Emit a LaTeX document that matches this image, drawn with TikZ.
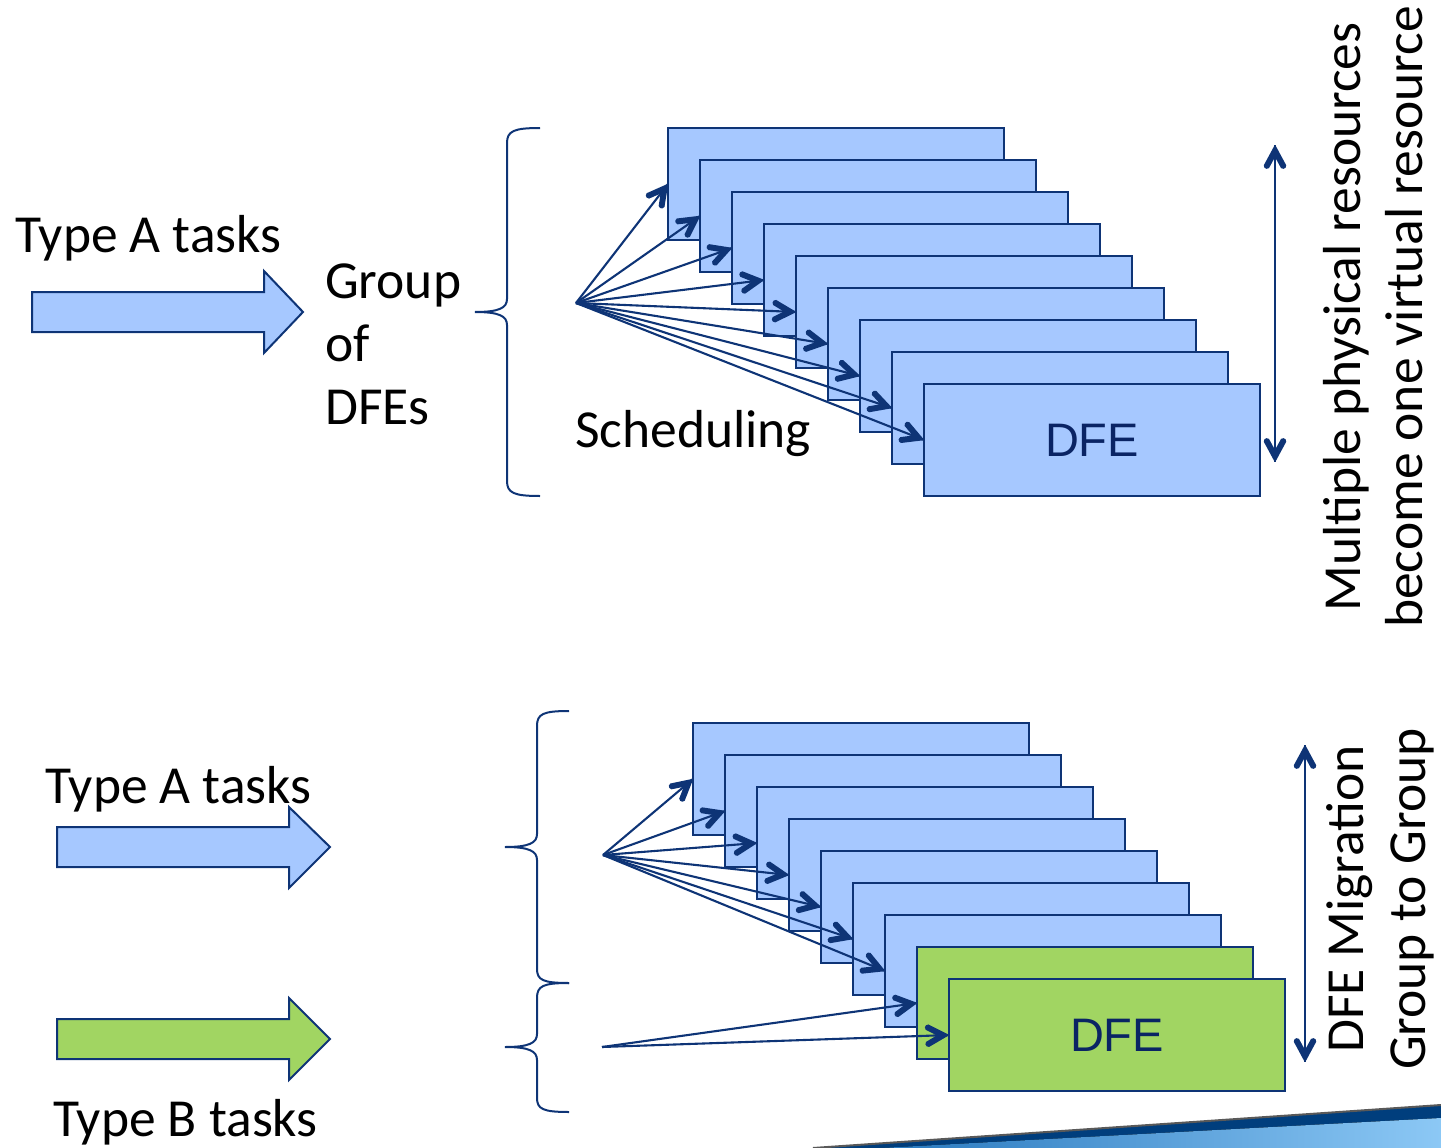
\documentclass[tikz,border=0pt]{standalone}
\usepackage{fontspec}
\setmainfont{Carlito}
\newfontfamily\dfefont{Liberation Sans}
\usetikzlibrary{calc,decorations.markings}

\definecolor{navy}{RGB}{14,52,118}
\definecolor{boxblue}{RGB}{166,200,255}
\definecolor{boxgreen}{RGB}{161,213,98}
\definecolor{dfetext}{RGB}{10,36,100}
\definecolor{swooshdark}{RGB}{0,62,125}
\definecolor{swooshmid}{RGB}{40,120,190}
\definecolor{swooshlight}{RGB}{140,200,245}

\tikzset{
  lbl/.style={font=\fontsize{53.5}{63}\selectfont, inner sep=0pt, anchor=base west},
  rotlbl/.style={font=\fontsize{53.5}{63}\selectfont, inner sep=0pt, rotate=90, anchor=base},
  dfebox/.style={draw=navy, line width=2pt, fill=boxblue, minimum width=336pt,
    minimum height=112pt, anchor=north west, inner sep=0pt, outer sep=0pt},
  dfegreen/.style={dfebox, fill=boxgreen},
  dfelabel/.style={font=\dfefont\fontsize{47}{50}\selectfont, text=dfetext, inner sep=0pt},
  % bold open barb heads, filled chevrons placed on the connector ends
  endbarb/.style={postaction={decorate, decoration={markings,
    mark=at position 1 with {\fill[navy, rounded corners=1.8pt]
      (0.5pt,0pt) -- (-21.9pt,-12.1pt) -- (-24.7pt,-6.9pt) -- (-12.1pt,0pt)
      -- (-24.7pt,6.9pt) -- (-21.9pt,12.1pt) -- cycle;}}}},
  startbarb/.style={postaction={decorate, decoration={markings,
    mark=at position 0 with {\fill[navy, rounded corners=1.8pt]
      (-0.5pt,0pt) -- (21.9pt,-12.1pt) -- (24.7pt,-6.9pt) -- (12.1pt,0pt)
      -- (24.7pt,6.9pt) -- (21.9pt,12.1pt) -- cycle;}}}},
  fan/.style={draw=navy, line width=2.1pt, endbarb},
  spanarrow/.style={draw=navy, line width=2.1pt, endbarb, startbarb},
  taskarrow/.style={draw=navy, line width=2pt, line join=miter},
  bracket/.style={draw=navy, line width=2pt},
}

\begin{document}
\begin{tikzpicture}[x=1pt, y=-1pt]
\useasboundingbox (0,0) rectangle (1441,1148);

% decorative swoosh at the lower right
\fill[swooshdark] (813,1148) -- (1441,1105) -- (1441,1148) -- cycle;
\fill[left color=swooshmid, right color=swooshlight]
  (880,1148) -- (1441,1118) -- (1441,1148) -- cycle;
\draw[gray!70!black, line width=2pt] (813,1148) -- (1441,1105);

% ---------- upper part: scheduling over one group ----------
\node[lbl] (ta1) at (15,252) {Type A tasks};
\draw[taskarrow, fill=boxblue]
  (32,292) -- (264,292) -- (264,271) -- (303,312) -- (264,353) -- (264,332) -- (32,332) -- cycle;

\node[lbl] (grp1) at (325,298) {Group};
\node[lbl] (grp2) at (325,361) {of};
\node[lbl] (grp3) at (325,424) {DFEs};

\draw[bracket] (540,128) .. controls (514,128) and (507,131) .. (507,143)
  -- (507,299) .. controls (507,308) and (499,312) .. (475,312)
  .. controls (499,312) and (507,316) .. (507,325)
  -- (507,481) .. controls (507,493) and (514,496) .. (540,496);

\foreach \i in {0,...,8}
  \node[dfebox] (t\i) at ({668+32*\i},{128+32*\i}) {};
\node[dfelabel] (tl) at (t8.center) {DFE};

\coordinate (srcT) at (576,303);
\foreach \i in {0,...,8}
  \draw[fan] (srcT) -- (t\i.west);

\node[lbl] (sched) at (575,447) {Scheduling};

\coordinate (vtA) at (1275,145);
\coordinate (vtB) at (1275,462);
\draw[spanarrow] (vtA) -- (vtB);
\node[rotlbl] (rot1) at (1360,317) {Multiple physical resources};
\node[rotlbl] (rot2) at (1422,317) {become one virtual resource};

% ---------- lower part: migration between groups ----------
\node[lbl] (ta2) at (45,803) {Type A tasks};
\draw[taskarrow, fill=boxblue]
  (57,827) -- (289,827) -- (289,807) -- (330,847) -- (289,888) -- (289,867) -- (57,867) -- cycle;
\draw[taskarrow, fill=boxgreen]
  (57,1019) -- (289,1019) -- (289,998) -- (330,1039) -- (289,1080) -- (289,1059) -- (57,1059) -- cycle;
\node[lbl] (tb) at (53,1136) {Type B tasks};

\draw[bracket] (569,711) .. controls (543,711) and (537,714) .. (537,726)
  -- (537,834) .. controls (537,843) and (529,847) .. (505,847)
  .. controls (529,847) and (537,851) .. (537,860)
  -- (537,969) .. controls (537,980) and (543,983) .. (569,983);
\draw[bracket] (569,983) .. controls (543,983) and (537,986) .. (537,998)
  -- (537,1034) .. controls (537,1043) and (529,1047) .. (505,1047)
  .. controls (529,1047) and (537,1051) .. (537,1060)
  -- (537,1098) .. controls (537,1109) and (543,1112) .. (569,1112);

\foreach \i in {0,...,6}
  \node[dfebox] (b\i) at ({693+32*\i},{723+32*\i}) {};
\node[dfegreen] (b7) at (917,947) {};
\node[dfegreen] (b8) at (949,979) {};
\node[dfelabel] (bl) at (b8.center) {DFE};

\coordinate (srcA) at (603,855);
\coordinate (srcB) at (602,1047);
\foreach \i in {0,...,6}
  \draw[fan] (srcA) -- (b\i.west);
\draw[fan] (srcB) -- (b7.west);
\draw[fan] (srcB) -- (b8.west);

\coordinate (vbA) at (1305,745);
\coordinate (vbB) at (1305,1062);
\draw[spanarrow] (vbA) -- (vbB);
\node[rotlbl] (rot3) at (1363,899) {DFE Migration};
\node[rotlbl] (rot4) at (1425,899) {Group to Group};
\end{tikzpicture}
\end{document}
